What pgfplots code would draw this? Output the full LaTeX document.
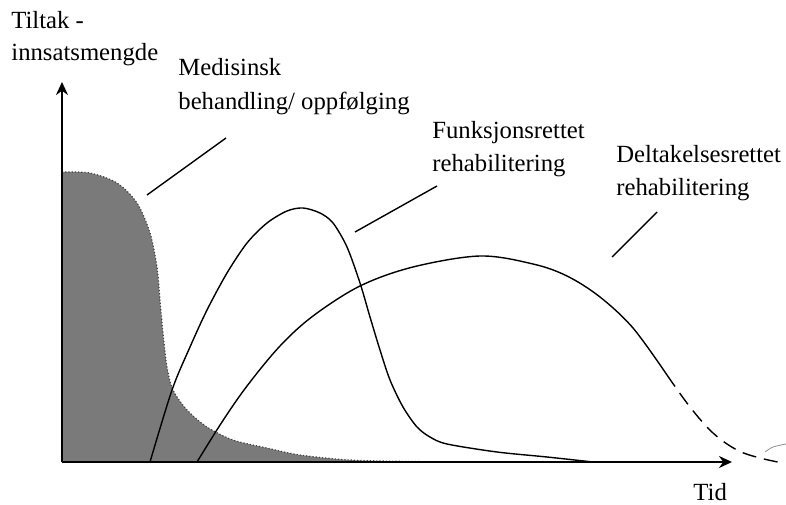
\documentclass[border=0pt]{standalone}
\usepackage{fontspec}
\setmainfont{Liberation Serif}
\usepackage{pgfplots}
\pgfplotsset{compat=1.18}
\usetikzlibrary{arrows.meta}
\definecolor{fillgray}{RGB}{122,122,122}
\begin{document}
\fontsize{12.35}{15}\selectfont
\begin{tikzpicture}
\begin{axis}[
  x=0.5pt, y=0.5pt,
  xmin=-62, xmax=724, ymin=-42, ymax=462,
  hide axis, clip=false,
]
% Medisinsk behandling (filled area)
\addplot[fill=fillgray, draw=none, smooth, tension=0.5] coordinates {
 (0,290) (28,289) (55,279) (75,259) (88,229) (95,195) (98,162) (101,129)
 (105,95) (111,72) (125,52) (145,35) (171,22) (205,14) (238,7) (288,2) (350,0.5) (420,0)
} \closedcycle;
\addplot[draw=black!75, line width=0.6pt, densely dotted, smooth, tension=0.5] coordinates {
 (0,290) (28,289) (55,279) (75,259) (88,229) (95,195) (98,162) (101,129)
 (105,95) (111,72) (125,52) (145,35) (171,22) (205,14) (238,7) (288,2) (350,0.5) (420,0)
};
% Funksjonsrettet rehabilitering
\addplot[black, line width=0.7pt, smooth, tension=0.5] coordinates {
 (88,0) (110,72) (128,115) (145,152) (165,189) (185,219) (205,239) (225,251)
 (241,254) (258,249) (271,239) (285,215) (298,179) (308,145) (318,112) (328,82)
 (341,55) (355,35) (368,25) (385,18) (435,10) (485,5) (531,0)
};
% Deltakelsesrettet rehabilitering (solid part)
\addplot[black, line width=0.7pt, smooth, tension=0.55] coordinates {
 (135,0) (160,40) (185,76) (218,116) (251,146) (298,176) (351,195) (418,206)
 (471,198) (505,186) (538,165) (571,134) (605,87)
};
% dashed tail
\addplot[black, line width=0.7pt, dash pattern=on 7pt off 4pt, smooth, tension=0.6] coordinates {
 (605,87) (628,55) (651,29) (675,12) (698,4) (721,-1)
};
% small stray arc
\addplot[black!45, line width=0.4pt, smooth] coordinates {
 (703,10) (711,15) (724,18)
};
% axes
\addplot[black, line width=1pt, -{Stealth[length=6.5pt,width=6pt]}] coordinates {(0,0) (670,0)};
\addplot[black, line width=1pt, -{Stealth[length=6.5pt,width=6pt]}] coordinates {(0,0) (0,380)};
% pointer lines
\addplot[black, line width=0.7pt] coordinates {(85,267) (164,324)};
\addplot[black, line width=0.7pt] coordinates {(293,230) (375,276)};
\addplot[black, line width=0.7pt] coordinates {(550,205) (595,250)};
% labels
\node[anchor=base west, inner sep=0pt] at (axis cs:-51,433) {Tiltak -};
\node[anchor=base west, inner sep=0pt] at (axis cs:-51,401) {innsatsmengde};
\node[anchor=base west, inner sep=0pt] at (axis cs:116,386) {Medisinsk};
\node[anchor=base west, inner sep=0pt] at (axis cs:116,352) {behandling/ oppfølging};
\node[anchor=base west, inner sep=0pt] at (axis cs:370,323) {Funksjonsrettet};
\node[anchor=base west, inner sep=0pt] at (axis cs:370,290) {rehabilitering};
\node[anchor=base west, inner sep=0pt] at (axis cs:554,299) {Deltakelsesrettet};
\node[anchor=base west, inner sep=0pt] at (axis cs:554,266) {rehabilitering};
\node[anchor=base west, inner sep=0pt] at (axis cs:631,-38) {Tid};
\coordinate (bl) at (axis cs:-62,-42);
\coordinate (tr) at (axis cs:724,462);
\end{axis}
\pgfresetboundingbox
\useasboundingbox (bl) rectangle (tr);
\end{tikzpicture}
\end{document}
